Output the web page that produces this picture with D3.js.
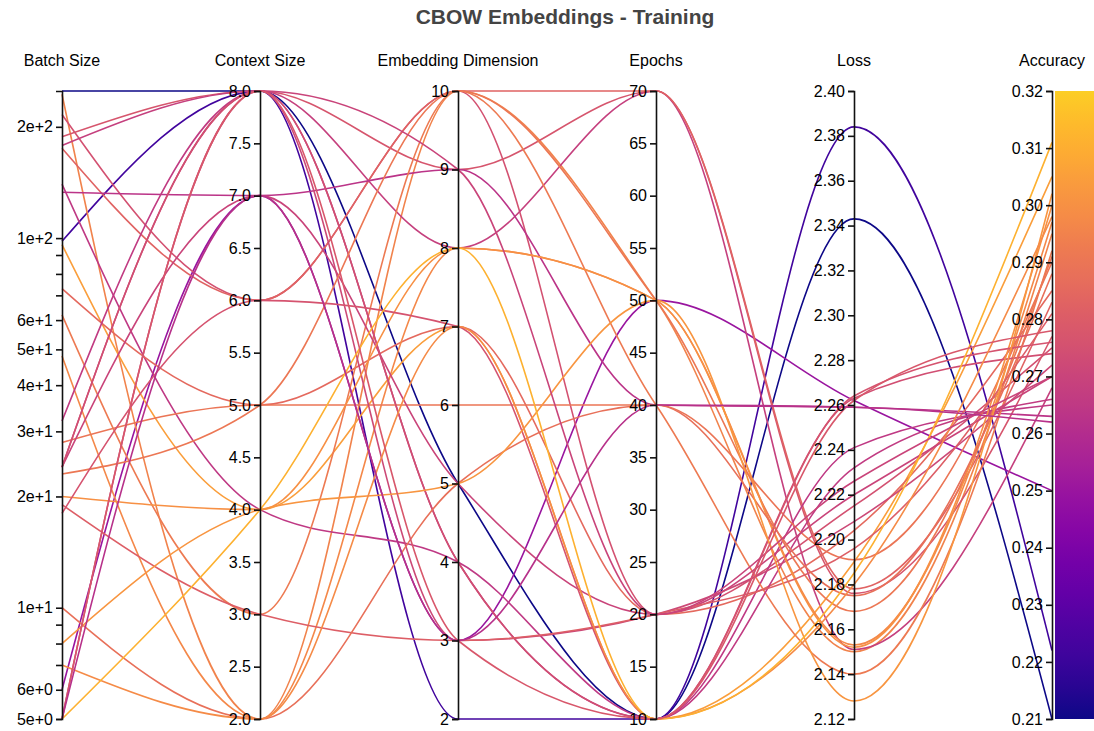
<!DOCTYPE html>
<html>
<head>
<meta charset="utf-8">
<script src="https://cdn.jsdelivr.net/npm/d3@7"></script>
<style>
  html, body { margin: 0; padding: 0; background: #fff; }
  svg { display: block; font-family: "Liberation Sans", Arial, Helvetica, sans-serif; }
</style>
</head>
<body>
<svg id="chart" width="1094" height="731"></svg>
<script>
// Dimensions shown as parallel axes, left to right
const dimensions = ["Batch Size", "Context Size", "Embedding Dimension", "Epochs", "Loss", "Accuracy"];

// One entry per training run, each list follows the dimension order
const batchSize = [250, 98, 6, 245, 216, 188, 178, 175, 140, 133, 96, 73, 62, 48, 32, 28, 24, 24, 24, 23, 20, 19, 18, 10, 8, 7, 5, 5, 5, 5];
const contextSize = [8, 8, 7, 2, 6, 8, 8, 6, 4, 7, 4, 5, 3, 2, 8, 5, 7, 8, 8, 5, 4, 3, 6, 2, 4, 2, 4, 8, 8, 7];
const embeddingDim = [5, 2, 3, 10, 10, 9, 8, 10, 4, 9, 7, 7, 10, 8, 4, 6, 5, 3, 4, 10, 8, 3, 7, 5, 5, 7, 8, 9, 3, 3];
const epochs = [10, 10, 50, 50, 20, 70, 70, 70, 10, 40, 10, 20, 40, 50, 10, 40, 20, 20, 10, 50, 50, 20, 10, 40, 50, 10, 10, 20, 10, 40];
const loss = [2.343, 2.384, 2.262, 2.150, 2.215, 2.176, 2.151, 2.178, 2.241, 2.259, 2.190, 2.204, 2.140, 2.153, 2.232, 2.191, 2.220, 2.208, 2.263, 2.168, 2.152, 2.196, 2.264, 2.175, 2.128, 2.180, 2.185, 2.226, 2.262, 2.259];
const accuracy = [0.210, 0.222, 0.250, 0.295, 0.275, 0.277, 0.268, 0.283, 0.265, 0.263, 0.305, 0.285, 0.292, 0.297, 0.266, 0.290, 0.270, 0.272, 0.274, 0.291, 0.300, 0.281, 0.276, 0.288, 0.302, 0.298, 0.311, 0.270, 0.278, 0.262];

const columns = [batchSize, contextSize, embeddingDim, epochs, loss, accuracy];
const rows = batchSize.map((_, i) => dimensions.map((d, j) => columns[j][i]));

const width = 1094, height = 731;
const yTop = 91, yBottom = 719;
const svg = d3.select("#chart");

const x = d3.scalePoint().domain(dimensions).range([62, 1052]);

// One vertical scale per dimension
const y = {};
y["Batch Size"] = d3.scaleLog().domain(d3.extent(batchSize)).range([yBottom, yTop]);
y["Context Size"] = d3.scaleLinear().domain(d3.extent(contextSize)).range([yBottom, yTop]);
y["Embedding Dimension"] = d3.scaleLinear().domain(d3.extent(embeddingDim)).range([yBottom, yTop]);
y["Epochs"] = d3.scaleLinear().domain(d3.extent(epochs)).range([yBottom, yTop]);
y["Loss"] = d3.scaleLinear().domain(d3.extent(loss)).range([yBottom, yTop]).nice();
y["Accuracy"] = d3.scaleLinear().domain(d3.extent(accuracy)).range([yBottom, yTop]).nice();

const accDomain = y["Accuracy"].domain();
const color = d3.scaleSequential(t => d3.interpolatePlasma(t * 0.9)).domain(accDomain);

// Title
svg.append("text")
  .attr("x", 565).attr("y", 24)
  .attr("text-anchor", "middle")
  .attr("font-size", 21).attr("font-weight", "bold")
  .attr("fill", "#444")
  .text("CBOW Embeddings - Training");

// Colour bar beside the accuracy axis
const defs = svg.append("defs");
const grad = defs.append("linearGradient").attr("id", "accGrad")
  .attr("x1", 0).attr("y1", 1).attr("x2", 0).attr("y2", 0);
d3.range(0, 1.0001, 0.05).forEach(t => {
  grad.append("stop").attr("offset", t).attr("stop-color", d3.interpolatePlasma(t * 0.9));
});
svg.append("rect")
  .attr("x", x("Accuracy") + 3).attr("y", yTop)
  .attr("width", 40).attr("height", yBottom - yTop)
  .attr("fill", "url(#accGrad)");

// Run lines
const line = d3.line()
  .x(d => d[0]).y(d => d[1])
  .curve(d3.curveMonotoneX);

svg.append("g")
  .attr("fill", "none")
  .attr("stroke-width", 1.6)
  .selectAll("path")
  .data(rows)
  .join("path")
  .attr("stroke", r => color(r[5]))
  .attr("d", r => line(dimensions.map((d, j) => [x(d), y[d](r[j])])));

// Axes
const formats = {
  "Batch Size": null,
  "Context Size": d3.format(".1f"),
  "Embedding Dimension": d3.format("d"),
  "Epochs": d3.format("d"),
  "Loss": d3.format(".2f"),
  "Accuracy": d3.format(".2f")
};

dimensions.forEach(d => {
  const axis = d3.axisLeft(y[d]).tickSizeOuter(6).tickSizeInner(6).tickPadding(3);
  if (d === "Batch Size") axis.ticks(10, ".0e");
  else axis.ticks(10).tickFormat(formats[d]);
  const g = svg.append("g")
    .attr("transform", `translate(${x(d)},0)`)
    .call(axis);
  g.attr("font-size", 16).attr("font-family", null);
  g.selectAll("text").attr("fill", "#000");
  g.selectAll("line").attr("stroke", "#111").attr("stroke-width", 1.6);
  g.select(".domain").attr("stroke", "#111").attr("stroke-width", 1.6);
  svg.append("text")
    .attr("x", x(d)).attr("y", 66)
    .attr("text-anchor", "middle")
    .attr("font-size", 16)
    .attr("fill", "#000")
    .text(d);
});
</script>
</body>
</html>
